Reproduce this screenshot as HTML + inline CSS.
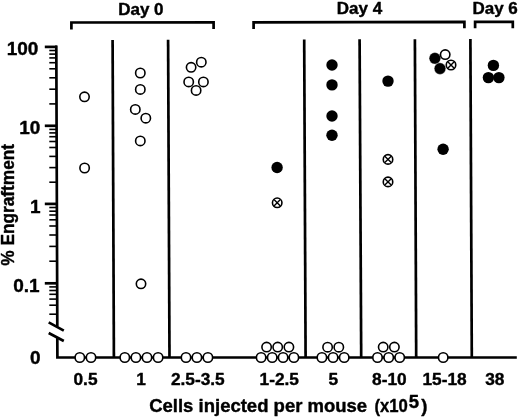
<!DOCTYPE html>
<html><head><meta charset="utf-8"><title>Engraftment chart</title>
<style>html,body{margin:0;padding:0;background:#fff;}svg{display:block;filter:blur(0.4px);}text{font-family:"Liberation Sans",sans-serif;font-weight:bold;fill:#000;stroke:#000;stroke-width:0.4px;stroke-linejoin:round;}</style>
</head><body>
<svg width="520" height="417" viewBox="0 0 520 417">
<rect width="520" height="417" fill="#fff"/>
<g stroke="#000" stroke-width="2.7" fill="none" stroke-linecap="butt" stroke-linejoin="miter">
<path d="M56.3 45.55 L57.3 326.5 M57.3 337 L57.4 357.5 M56.05 357.5 H516.8"/>
<path d="M48.7 322.4 L63.8 330.6 M48.7 333 L63.8 341"/>
<path d="M112.6 40.1 L113.9 357.5"/>
<path d="M168.1 39.7 L169.5 357.5"/>
<path d="M304.2 39.4 L305.6 357.5"/>
<path d="M359.6 39.3 L361.2 357.5"/>
<path d="M414.9 39.2 L416.2 357.5"/>
<path d="M470.4 39.0 L471.8 357.5"/>
<path d="M71.4 29.4 V22.5 L213.6 22.3 V29"/>
<path d="M253.6 28.9 V22.3 L464.4 21.9 V28.3"/>
<path d="M475.1 28.2 V21.9 L512.8 21.8 V28.2"/>
<path d="M44.8 46.9 H57.0"/>
<path d="M44.8 125.8 H57.0"/>
<path d="M44.8 203.9 H57.0"/>
<path d="M44.8 283.3 H57.0"/>
</g>
<g stroke="#000" stroke-width="1.6" fill="none">
<path d="M49.3 103.9 H57.0"/>
<path d="M49.3 89.2 H57.0"/>
<path d="M49.3 77.8 H57.0"/>
<path d="M49.3 68.8 H57.0"/>
<path d="M49.3 62.7 H57.0"/>
<path d="M49.3 57.9 H57.0"/>
<path d="M49.3 54.1 H57.0"/>
<path d="M49.3 50.5 H57.0"/>
<path d="M49.3 182.2 H57.0"/>
<path d="M49.3 167.6 H57.0"/>
<path d="M49.3 156.4 H57.0"/>
<path d="M49.3 147.5 H57.0"/>
<path d="M49.3 141.5 H57.0"/>
<path d="M49.3 136.7 H57.0"/>
<path d="M49.3 132.9 H57.0"/>
<path d="M49.3 129.4 H57.0"/>
<path d="M49.3 261.2 H57.0"/>
<path d="M49.3 246.4 H57.0"/>
<path d="M49.3 235.0 H57.0"/>
<path d="M49.3 226.0 H57.0"/>
<path d="M49.3 219.8 H57.0"/>
<path d="M49.3 215.0 H57.0"/>
<path d="M49.3 211.2 H57.0"/>
<path d="M49.3 207.5 H57.0"/>
<path d="M49.3 314.2 H57.0"/>
<path d="M49.3 305.2 H57.0"/>
<path d="M49.3 299.1 H57.0"/>
<path d="M49.3 294.3 H57.0"/>
<path d="M49.3 290.5 H57.0"/>
<path d="M49.3 286.9 H57.0"/>
</g>
<g fill="#000">
<circle cx="277.1" cy="167.5" r="5.7"/>
<circle cx="332" cy="65" r="5.7"/>
<circle cx="332" cy="84.9" r="5.7"/>
<circle cx="332" cy="116" r="5.7"/>
<circle cx="332" cy="135.3" r="5.7"/>
<circle cx="388" cy="81.1" r="5.7"/>
<circle cx="434.9" cy="58.3" r="5.8" stroke="#fff" stroke-width="0.35"/>
<circle cx="440" cy="68.6" r="5.8" stroke="#fff" stroke-width="0.35"/>
<circle cx="443.1" cy="149.2" r="5.7"/>
<circle cx="493.4" cy="65.4" r="5.7"/>
<circle cx="488.4" cy="77.6" r="5.7"/>
<circle cx="498.9" cy="77.6" r="5.7"/>
</g>
<g fill="#fff" stroke="#000" stroke-width="1.6">
<circle cx="84.5" cy="96.8" r="4.7"/>
<circle cx="84.6" cy="168.0" r="4.7"/>
<circle cx="140.3" cy="73.0" r="4.7"/>
<circle cx="140.3" cy="89.4" r="4.7"/>
<circle cx="135.3" cy="109.4" r="4.7"/>
<circle cx="145.8" cy="118.2" r="4.7"/>
<circle cx="140.3" cy="140.9" r="4.7"/>
<circle cx="141" cy="283.8" r="4.7"/>
<circle cx="201.3" cy="62.2" r="4.7"/>
<circle cx="191.1" cy="67.3" r="4.7"/>
<circle cx="196.1" cy="90.4" r="4.7"/>
<circle cx="188.7" cy="81.9" r="4.7"/>
<circle cx="203.4" cy="81.9" r="4.7"/>
<circle cx="79.8" cy="357.5" r="4.7"/>
<circle cx="91" cy="357.5" r="4.7"/>
<circle cx="124.8" cy="357.5" r="4.7"/>
<circle cx="135.9" cy="357.5" r="4.7"/>
<circle cx="147" cy="357.5" r="4.7"/>
<circle cx="158.1" cy="357.5" r="4.7"/>
<circle cx="186" cy="357.5" r="4.7"/>
<circle cx="196.9" cy="357.5" r="4.7"/>
<circle cx="207.9" cy="357.5" r="4.7"/>
<circle cx="266.6" cy="347.1" r="4.7"/>
<circle cx="277.7" cy="347.1" r="4.7"/>
<circle cx="288.9" cy="347.1" r="4.7"/>
<circle cx="261.1" cy="357.5" r="4.7"/>
<circle cx="272.2" cy="357.5" r="4.7"/>
<circle cx="283.1" cy="357.5" r="4.7"/>
<circle cx="293.9" cy="357.5" r="4.7"/>
<circle cx="327.6" cy="347.2" r="4.7"/>
<circle cx="338.8" cy="347.2" r="4.7"/>
<circle cx="321.9" cy="357.5" r="4.7"/>
<circle cx="333.1" cy="357.5" r="4.7"/>
<circle cx="344.2" cy="357.5" r="4.7"/>
<circle cx="383.2" cy="347.1" r="4.7"/>
<circle cx="394.4" cy="347.1" r="4.7"/>
<circle cx="377.5" cy="357.5" r="4.7"/>
<circle cx="388.7" cy="357.5" r="4.7"/>
<circle cx="399.7" cy="357.5" r="4.7"/>
<circle cx="443.2" cy="357.5" r="4.7"/>
<circle cx="445.2" cy="54.6" r="4.7"/>
<circle cx="277.2" cy="202.8" r="4.75"/>
<circle cx="388" cy="159.4" r="4.75"/>
<circle cx="388" cy="181.9" r="4.75"/>
<circle cx="451" cy="65" r="4.75"/>
</g>
<g stroke="#000" stroke-width="1.4" fill="none">
<path d="M274.0 199.6 L280.4 206.0 M274.0 206.0 L280.4 199.6"/>
<path d="M384.8 156.2 L391.2 162.6 M384.8 162.6 L391.2 156.2"/>
<path d="M384.8 178.7 L391.2 185.1 M384.8 185.1 L391.2 178.7"/>
<path d="M447.8 61.8 L454.2 68.2 M447.8 68.2 L454.2 61.8"/>
</g>
<text transform="translate(140.9,14.5) scale(1.05,1)" font-size="16.2" text-anchor="middle">Day 0</text>
<text transform="translate(359.5,13.9) scale(1.05,1)" font-size="16.2" text-anchor="middle">Day 4</text>
<text transform="translate(495.1,13.5) scale(1.05,1)" font-size="16.2" text-anchor="middle">Day 6</text>
<text x="38.4" y="55.3" font-size="19" text-anchor="end">100</text>
<text x="40.4" y="134.3" font-size="19" text-anchor="end">10</text>
<text x="40.6" y="213.2" font-size="19" text-anchor="end">1</text>
<text x="39.6" y="291.6" font-size="19" text-anchor="end">0.1</text>
<text x="40.7" y="364.4" font-size="19" text-anchor="end">0</text>
<text x="85.5" y="385.1" font-size="17.3" text-anchor="middle">0.5</text>
<text x="141" y="385.1" font-size="17.3" text-anchor="middle">1</text>
<text x="197.8" y="385.1" font-size="17.3" text-anchor="middle">2.5-3.5</text>
<text x="279.3" y="385.1" font-size="17.3" text-anchor="middle">1-2.5</text>
<text x="333.3" y="385.1" font-size="17.3" text-anchor="middle">5</text>
<text x="389.4" y="385.1" font-size="17.3" text-anchor="middle">8-10</text>
<text x="444.6" y="385.1" font-size="17.3" text-anchor="middle">15-18</text>
<text x="494.8" y="385.1" font-size="17.3" text-anchor="middle">38</text>
<text y="411.5" font-size="18.5"><tspan x="149.2">Cells injected per mouse </tspan><tspan x="374.5" textLength="33.4" lengthAdjust="spacingAndGlyphs">(x10</tspan><tspan x="408.7" y="407.5">5</tspan><tspan x="421.2" y="411.5">)</tspan></text>
<text transform="translate(14.2,265.7) rotate(-90)" font-size="17.8" textLength="121.8" lengthAdjust="spacingAndGlyphs">% Engraftment</text>
</svg>
</body></html>
